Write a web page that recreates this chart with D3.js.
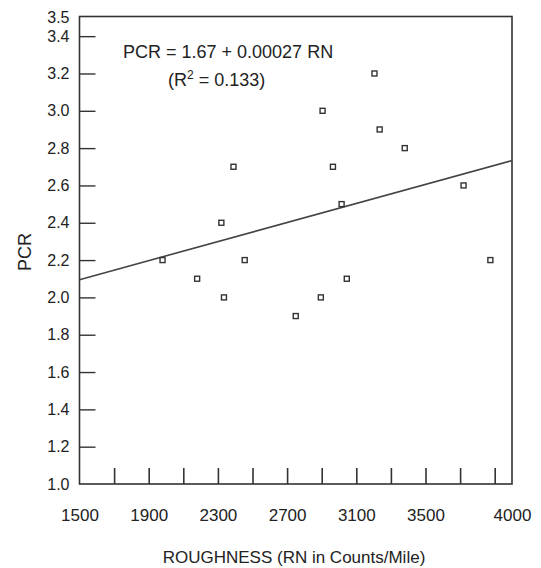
<!DOCTYPE html>
<html>
<head>
<meta charset="utf-8">
<script src="https://cdn.jsdelivr.net/npm/d3@7"></script>
<style>
  body { margin: 0; background: #fff; }
  text { font-family: "Liberation Sans", Arial, sans-serif; fill: #222; }
</style>
</head>
<body>
<div id="plot"></div>
<script>
// Roughness (RN) vs PCR
const roughness = [1980, 2180, 2320, 2335, 2390, 2455, 2750, 2895, 2905, 2965, 3015, 3045, 3205, 3235, 3380, 3720, 3875];
const pcr = [2.2, 2.1, 2.4, 2.0, 2.7, 2.2, 1.9, 2.0, 3.0, 2.7, 2.5, 2.1, 3.2, 2.9, 2.8, 2.6, 2.2];

// fitted line as drawn (ends at the frame edges)
const fitX = [1500, 4000];
const fitY = [2.095, 2.733];

const xLabels = [1500, 1900, 2300, 2700, 3100, 3500, 4000];
const xTicks = [1700, 1900, 2100, 2300, 2500, 2700, 2900, 3100, 3300, 3500, 3700, 3900];
const yLabels = [1.0, 1.2, 1.4, 1.6, 1.8, 2.0, 2.2, 2.4, 2.6, 2.8, 3.0, 3.2, 3.4, 3.5];
const yTicks = [1.2, 1.4, 1.6, 1.8, 2.0, 2.2, 2.4, 2.6, 2.8, 3.0, 3.2, 3.4];

const w = 541;
const h = 568;
const frame = {left: 79.5, right: 512, top: 16.5, bottom: 484};

const xScale = d3.scaleLinear()
  .domain([1500, 4000])
  .range([frame.left, frame.right]);

const yScale = d3.scaleLinear()
  .domain([1.0, 3.5])
  .range([frame.bottom, frame.top + 1]);

const svg = d3.select("div#plot")
  .append("svg")
  .attr("width", w)
  .attr("height", h);

svg.append("rect")
  .attr("width", w)
  .attr("height", h)
  .attr("fill", "#fff");

// inward tick marks
const xTickAxis = d3.axisBottom(xScale)
  .tickValues(xTicks)
  .tickSize(-16)
  .tickFormat("");

svg.append("g")
  .attr("transform", `translate(0, ${frame.bottom})`)
  .call(xTickAxis)
  .call(g => g.select(".domain").remove())
  .selectAll("line")
  .attr("stroke", "#333")
  .attr("stroke-width", 1.6);

const yTickAxis = d3.axisLeft(yScale)
  .tickValues(yTicks)
  .tickSize(-16)
  .tickFormat("");

svg.append("g")
  .attr("transform", `translate(${frame.left}, 0)`)
  .call(yTickAxis)
  .call(g => g.select(".domain").remove())
  .selectAll("line")
  .attr("stroke", "#333")
  .attr("stroke-width", 1.4);

// tick labels
const xLabelAxis = d3.axisBottom(xScale)
  .tickValues(xLabels)
  .tickSize(0)
  .tickPadding(25)
  .tickFormat(d3.format("d"));

svg.append("g")
  .attr("transform", `translate(0, ${frame.bottom})`)
  .call(xLabelAxis)
  .call(g => g.select(".domain").remove())
  .selectAll("text")
  .style("font-size", "17px")
  .style("font-family", "'Liberation Sans', Arial, sans-serif")
  .attr("fill", "#222");

const yLabelAxis = d3.axisLeft(yScale)
  .tickValues(yLabels)
  .tickSize(0)
  .tickPadding(10)
  .tickFormat(d3.format(".1f"));

svg.append("g")
  .attr("transform", `translate(${frame.left}, 0)`)
  .call(yLabelAxis)
  .call(g => g.select(".domain").remove())
  .selectAll("text")
  .style("font-size", "16px")
  .style("font-family", "'Liberation Sans', Arial, sans-serif")
  .attr("fill", "#222");

// frame
svg.append("rect")
  .attr("x", frame.left)
  .attr("y", frame.top)
  .attr("width", frame.right - frame.left)
  .attr("height", frame.bottom - frame.top)
  .attr("fill", "none")
  .attr("stroke", "#333")
  .attr("stroke-width", 1.6);

// regression line
const line = d3.line()
  .x(d => xScale(d[0]))
  .y(d => yScale(d[1]));

svg.append("path")
  .datum(d3.zip(fitX, fitY))
  .attr("d", line)
  .attr("fill", "none")
  .attr("stroke", "#444")
  .attr("stroke-width", 1.6);

// data points
svg.append("g")
  .selectAll("rect")
  .data(d3.zip(roughness, pcr))
  .join("rect")
  .attr("x", d => xScale(d[0]) - 2.5)
  .attr("y", d => yScale(d[1]) - 2.5)
  .attr("width", 5)
  .attr("height", 5)
  .attr("fill", "#fff")
  .attr("stroke", "#333")
  .attr("stroke-width", 1.4);

// equation
svg.append("text")
  .attr("x", 123)
  .attr("y", 58)
  .style("font-size", "18px")
  .text("PCR = 1.67 + 0.00027 RN");

const r2 = svg.append("text")
  .attr("x", 168)
  .attr("y", 86)
  .style("font-size", "18px");
r2.append("tspan").text("(R");
r2.append("tspan").attr("dy", -7).style("font-size", "12px").text("2");
r2.append("tspan").attr("dy", 7).text(" = 0.133)");

// axis titles
svg.append("text")
  .attr("x", 294)
  .attr("y", 563)
  .attr("text-anchor", "middle")
  .style("font-size", "17px")
  .text("ROUGHNESS (RN in Counts/Mile)");

svg.append("text")
  .attr("transform", "rotate(-90)")
  .attr("x", -252)
  .attr("y", 31)
  .attr("text-anchor", "middle")
  .style("font-size", "18px")
  .text("PCR");
</script>
</body>
</html>
